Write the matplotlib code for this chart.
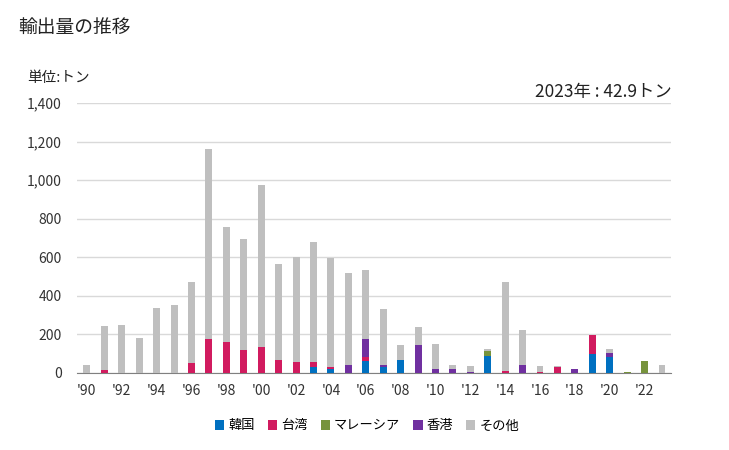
import matplotlib
matplotlib.use("Agg")
import matplotlib.pyplot as plt
from matplotlib.patches import Patch
import numpy as np

plt.rcParams['font.family'] = ['Noto Sans CJK JP', 'DejaVu Sans']

years = list(range(1990, 2024))
korea = [0, 0, 0, 0, 0, 0, 0, 0, 0, 0, 0,
         0, 0, 29, 22, 0, 64, 29, 69, 0, 0,
         0, 0, 90, 0, 0, 0, 0, 0, 100, 85, 0, 0, 0]
taiwan = [0, 17, 0, 0, 0, 0, 54, 178, 162, 121, 137,
          69, 59, 30, 11, 0, 21, 0, 0, 0, 0,
          0, 0, 0, 12, 0, 7, 29, 0, 99, 0, 0, 0, 0]
malaysia = [0, 0, 0, 0, 0, 0, 0, 0, 0, 0, 0,
            0, 0, 0, 0, 0, 0, 0, 0, 0, 0,
            0, 0, 26, 0, 0, 0, 0, 0, 0, 0, 7, 64, 0]
hongkong = [0, 0, 0, 0, 0, 0, 0, 0, 0, 0, 0,
            0, 0, 0, 0, 43, 93, 14, 0, 147, 22,
            22, 7, 0, 0, 43, 0, 4, 22, 0, 20, 0, 0, 0]
other = [43, 228, 250, 183, 339, 354, 416, 985, 597, 575, 839,
         498, 544, 622, 565, 477, 358, 290, 78, 93, 130,
         21, 31, 10, 461, 182, 31, 5, 0, 0, 21, 0, 0, 43]

series = [("韓国", korea, "#0070C0"),
          ("台湾", taiwan, "#D11B5F"),
          ("マレーシア", malaysia, "#77933C"),
          ("香港", hongkong, "#7030A0"),
          ("その他", other, "#BFBFBF")]

fig = plt.figure(figsize=(7.29, 4.5), dpi=100)
ax = fig.add_axes([77/729, 1-373/450, (670.7-77)/729, 270/450])

x = np.array(years)
bottom = np.zeros(len(years))
for name, vals, col in series:
    v = np.array(vals, dtype=float)
    ax.bar(x, v, bottom=bottom, width=0.4, color=col, zorder=3)
    bottom += v

ax.set_xlim(1989.43, 2023.5)
ax.set_ylim(0, 1400)
ax.set_yticks(range(0, 1401, 200))
ax.set_yticklabels([f"{v:,}" for v in range(0, 1401, 200)])
ax.set_xticks(range(1990, 2023, 2))
ax.set_xticklabels([f"'{y % 100:02d}" for y in range(1990, 2023, 2)])
ax.grid(axis='y', color='#D9D9D9', linewidth=1, zorder=0)
for s in ['top', 'right', 'left']:
    ax.spines[s].set_visible(False)
ax.spines['bottom'].set_color('#808080')
ax.tick_params(axis='both', length=0, labelsize=10, colors='#333333')
ax.tick_params(axis='y', pad=11)
ax.tick_params(axis='x', pad=8)

fig.text(18/729, 1-27/450, "輸出量の推移", fontsize=13.5, va='center', ha='left', color='#222222')
fig.text(27/729, 1-78/450, "単位:トン", fontsize=10.5, va='center', ha='left', color='#222222')
fig.text(672/729, 1-92/450, "2023年 : 42.9トン", fontsize=12.5, va='center', ha='right', color='#222222')

handles = [Patch(facecolor=c, edgecolor='none', label=n) for n, _, c in series]
fig.legend(handles=handles, loc='center', bbox_to_anchor=(367/729, 1-426/450), ncol=5,
           frameon=False, fontsize=9.5, handlelength=0.7, handleheight=0.7,
           handletextpad=0.3, columnspacing=1.0)

fig.savefig("out.png", dpi=100)
